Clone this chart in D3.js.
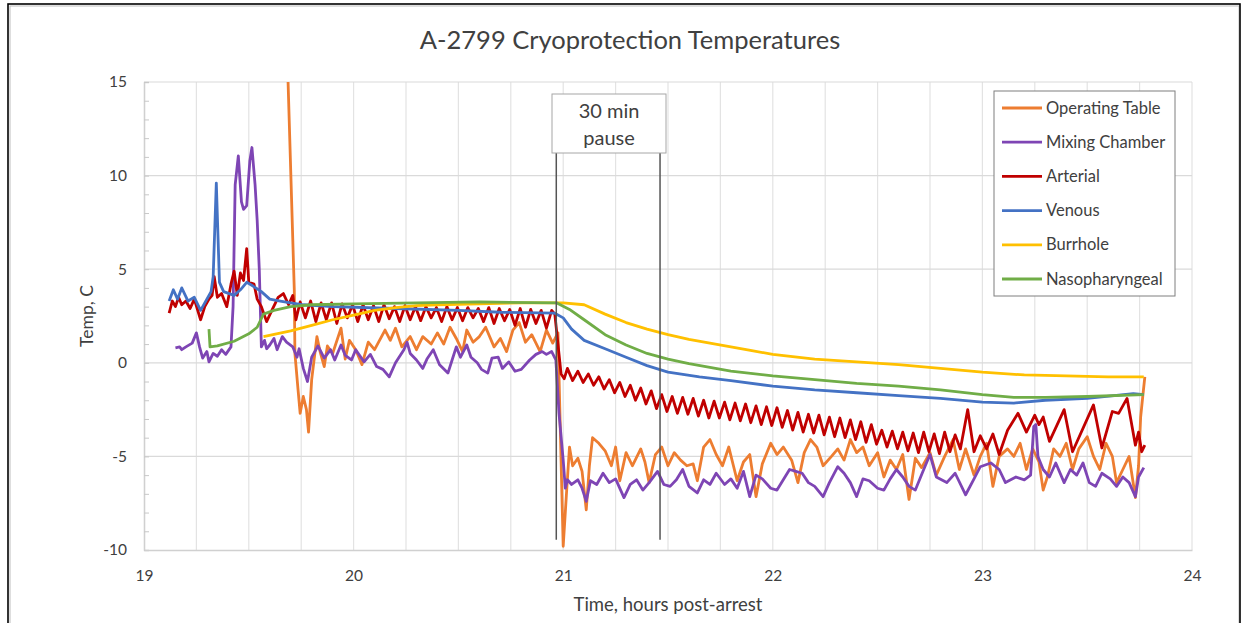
<!DOCTYPE html>
<html>
<head>
<meta charset="utf-8">
<script src="https://cdn.jsdelivr.net/npm/d3@7/dist/d3.min.js"></script>
<style>
body { margin: 0; background: #fff; }
text { font-family: Lato, "Open Sans", sans-serif; fill: #404040; }
</style>
</head>
<body>
<svg id="chart" width="1252" height="623"></svg>
<script>
var chartTitle = "A-2799 Cryoprotection Temperatures";
var xTitle = "Time, hours post-arrest";
var yTitle = "Temp, C";
var xTicks = [19, 20, 21, 22, 23, 24];
var yTicks = [-10, -5, 0, 5, 10, 15];
var pauseLabel = ["30 min", "pause"];
var pauseStart = 20.967;
var pauseEnd = 21.462;

var seriesNames = ["Operating Table", "Mixing Chamber", "Arterial", "Venous", "Burrhole", "Nasopharyngeal"];
var seriesColors = ["#ED7D31", "#7E45B4", "#C00000", "#4472C4", "#FFC000", "#70AD47"];

// [hours post-arrest, temp C]
var operatingTable = [[19.686,15.5],[19.717,3.9],[19.72,0.5],[19.735,-1.45],[19.745,-2.7],[19.76,-1.8],[19.775,-2.5],[19.785,-3.7],[19.8,-0.9],[19.825,1.4],[19.84,0.6],[19.86,-0.2],[19.875,0.9],[19.9,0.5],[19.94,1.85],[19.96,0.2],[19.98,1.2],[20.01,0.7],[20.04,-0.1],[20.07,1.1],[20.1,0.7],[20.15,1.75],[20.175,1.2],[20.2,1.85],[20.23,0.85],[20.27,1.4],[20.3,0.7],[20.33,1.4],[20.37,1.0],[20.4,1.6],[20.43,1.0],[20.46,1.9],[20.49,1.3],[20.52,0.6],[20.54,1.75],[20.57,1.1],[20.6,1.4],[20.63,1.9],[20.67,0.85],[20.7,1.3],[20.73,0.6],[20.76,1.75],[20.79,2.15],[20.82,1.1],[20.85,1.5],[20.89,0.6],[20.92,1.75],[20.95,1.05],[20.975,1.6],[20.99,-5.3],[21.0,-9.8],[21.015,-7.1],[21.03,-4.5],[21.045,-5.5],[21.07,-5.1],[21.09,-5.8],[21.11,-7.85],[21.125,-5.5],[21.14,-4.0],[21.17,-4.3],[21.2,-4.7],[21.23,-5.5],[21.25,-4.5],[21.27,-6.3],[21.3,-4.8],[21.33,-5.5],[21.37,-4.6],[21.39,-5.3],[21.41,-6.4],[21.44,-4.9],[21.47,-4.5],[21.5,-5.5],[21.53,-4.8],[21.56,-5.2],[21.59,-5.5],[21.62,-5.4],[21.64,-6.3],[21.67,-4.5],[21.7,-4.1],[21.73,-4.9],[21.76,-5.5],[21.79,-4.5],[21.83,-6.3],[21.86,-5.3],[21.89,-4.9],[21.92,-7.15],[21.95,-5.4],[21.99,-4.3],[22.02,-4.9],[22.05,-4.5],[22.09,-5.2],[22.12,-6.4],[22.15,-4.8],[22.18,-4.1],[22.21,-4.5],[22.24,-5.5],[22.28,-5.0],[22.31,-4.6],[22.34,-5.2],[22.37,-4.1],[22.4,-4.8],[22.43,-4.5],[22.46,-5.5],[22.5,-4.8],[22.53,-6.1],[22.56,-5.2],[22.59,-5.7],[22.62,-4.9],[22.65,-7.3],[22.68,-5.1],[22.71,-5.6],[22.75,-4.8],[22.78,-6.0],[22.82,-5.0],[22.86,-4.1],[22.89,-5.7],[22.92,-4.6],[22.96,-6.0],[22.99,-5.0],[23.02,-4.3],[23.05,-6.6],[23.08,-5.0],[23.12,-4.6],[23.15,-5.0],[23.18,-4.3],[23.21,-5.7],[23.24,-4.6],[23.27,-5.3],[23.29,-6.8],[23.31,-6.1],[23.34,-4.6],[23.37,-5.0],[23.4,-4.3],[23.43,-5.7],[23.46,-4.6],[23.5,-3.95],[23.53,-5.0],[23.56,-5.7],[23.59,-4.3],[23.62,-5.0],[23.64,-6.4],[23.67,-5.7],[23.7,-5.0],[23.73,-7.2],[23.745,-5.5],[23.755,-2.9],[23.765,-1.8],[23.775,-0.75]];

var mixingChamber = [[19.15,0.8],[19.17,0.85],[19.18,0.7],[19.2,0.85],[19.23,1.05],[19.25,1.6],[19.265,0.85],[19.28,0.25],[19.3,0.6],[19.31,0.05],[19.33,0.5],[19.35,0.35],[19.37,0.7],[19.39,0.45],[19.415,0.85],[19.425,3.0],[19.435,9.5],[19.45,11.05],[19.465,8.6],[19.475,8.2],[19.49,8.4],[19.505,10.8],[19.515,11.5],[19.53,9.5],[19.54,7.6],[19.55,5.0],[19.56,0.85],[19.575,1.2],[19.585,0.75],[19.6,0.95],[19.62,1.3],[19.635,0.7],[19.66,1.4],[19.68,1.1],[19.71,0.85],[19.73,0.3],[19.74,0.75],[19.76,-0.3],[19.78,-1.0],[19.8,0.3],[19.83,0.9],[19.86,0.25],[19.89,0.7],[19.91,0.15],[19.94,0.95],[19.96,0.4],[19.99,0.15],[20.01,0.7],[20.05,0.05],[20.08,0.45],[20.11,-0.2],[20.14,-0.35],[20.17,-0.75],[20.2,0.0],[20.24,0.7],[20.255,1.1],[20.27,0.5],[20.3,0.15],[20.33,-0.3],[20.35,0.2],[20.38,0.7],[20.41,-0.1],[20.45,-0.55],[20.47,0.15],[20.49,0.85],[20.51,0.3],[20.54,0.95],[20.56,0.3],[20.59,0.0],[20.61,-0.35],[20.64,-0.55],[20.66,0.25],[20.69,0.3],[20.71,-0.3],[20.74,0.05],[20.77,-0.45],[20.8,-0.35],[20.84,0.15],[20.87,0.45],[20.9,0.6],[20.92,0.45],[20.945,0.6],[20.965,0.15],[20.98,-2.7],[21.0,-5.2],[21.01,-6.7],[21.02,-6.25],[21.04,-6.5],[21.07,-6.25],[21.09,-6.7],[21.11,-7.4],[21.13,-6.3],[21.16,-6.5],[21.19,-5.9],[21.22,-6.4],[21.25,-6.2],[21.29,-7.2],[21.32,-6.5],[21.35,-6.25],[21.38,-6.8],[21.41,-6.4],[21.45,-5.8],[21.48,-6.5],[21.51,-6.6],[21.54,-6.25],[21.57,-5.7],[21.6,-6.6],[21.64,-6.95],[21.67,-6.25],[21.7,-6.5],[21.73,-5.9],[21.77,-6.5],[21.8,-6.2],[21.83,-6.7],[21.86,-5.8],[21.89,-7.15],[21.92,-6.0],[21.95,-6.2],[21.99,-6.7],[22.02,-6.8],[22.05,-6.25],[22.08,-5.7],[22.11,-5.8],[22.14,-5.9],[22.17,-6.4],[22.2,-6.6],[22.24,-7.15],[22.27,-6.4],[22.31,-5.55],[22.34,-5.9],[22.37,-6.4],[22.4,-7.15],[22.43,-6.2],[22.46,-6.3],[22.5,-6.7],[22.53,-6.8],[22.56,-6.2],[22.59,-5.7],[22.62,-6.1],[22.65,-6.6],[22.68,-6.8],[22.72,-5.7],[22.75,-4.9],[22.78,-6.1],[22.83,-6.4],[22.87,-5.9],[22.92,-7.05],[22.96,-6.2],[22.99,-5.55],[23.04,-5.35],[23.08,-5.7],[23.11,-6.4],[23.16,-6.1],[23.2,-6.25],[23.23,-6.0],[23.245,-3.4],[23.255,-3.3],[23.265,-5.0],[23.29,-5.7],[23.32,-6.1],[23.35,-5.35],[23.39,-6.4],[23.42,-5.7],[23.45,-6.0],[23.48,-5.35],[23.51,-6.4],[23.54,-6.6],[23.57,-5.9],[23.61,-6.2],[23.64,-6.6],[23.67,-6.1],[23.7,-6.4],[23.73,-7.15],[23.745,-6.1],[23.77,-5.6]];

var arterial = [[19.12,2.65],[19.135,3.3],[19.15,3.0],[19.165,3.5],[19.18,3.1],[19.2,3.3],[19.22,2.9],[19.24,3.4],[19.27,2.3],[19.29,3.0],[19.31,3.4],[19.325,3.6],[19.335,4.6],[19.35,3.5],[19.37,3.7],[19.395,3.0],[19.415,4.2],[19.43,4.9],[19.445,3.6],[19.46,4.8],[19.475,4.4],[19.49,6.1],[19.5,4.3],[19.525,4.2],[19.54,3.4],[19.56,3.0],[19.585,2.2],[19.61,2.8],[19.64,3.5],[19.665,3.7],[19.69,3.1],[19.71,3.6],[19.725,2.3],[19.745,3.25],
  [19.77,2.4],[19.795,3.3],[19.82,2.2],[19.845,3.2],[19.87,2.3],[19.895,3.2],[19.92,2.1],[19.945,3.15],[19.97,2.4],[19.995,3.1],[20.02,2.2],[20.045,3.1],[20.07,2.3],[20.095,3.05],[20.12,2.2],[20.145,3.1],[20.17,2.35],[20.195,3.0],[20.22,2.2],[20.245,3.05],[20.27,2.3],[20.295,3.0],[20.32,2.25],[20.345,3.0],[20.37,2.4],[20.395,2.95],[20.42,2.2],[20.445,3.0],[20.47,2.3],[20.495,2.95],[20.52,2.25],[20.545,2.95],[20.57,2.4],[20.595,2.9],[20.62,2.2],[20.645,2.95],[20.67,2.1],[20.695,2.9],[20.72,2.25],[20.745,2.85],[20.77,2.0],[20.795,2.9],[20.82,1.9],[20.845,2.85],[20.87,2.1],[20.895,2.8],[20.92,1.85],[20.945,2.8],[20.96,2.6],
  [20.975,1.0],[20.99,-0.6],[21.005,-0.85],[21.02,-0.3],[21.045,-0.95],[21.07,-0.45],[21.095,-1.05],[21.12,-0.6],[21.145,-1.2],[21.17,-0.75],[21.195,-1.4],[21.22,-0.9],[21.245,-1.6],[21.27,-1.05],[21.295,-1.8],[21.32,-1.2],[21.345,-2.0],[21.37,-1.35],[21.395,-2.2],[21.42,-1.5],[21.445,-2.45],[21.47,-1.7],[21.495,-2.6],[21.52,-1.8],[21.545,-2.7],[21.57,-1.85],[21.595,-2.75],[21.62,-1.9],[21.645,-2.85],[21.67,-2.0],[21.695,-2.95],[21.72,-2.05],[21.745,-2.95],[21.77,-2.1],[21.795,-3.05],[21.82,-2.15],[21.845,-3.1],[21.87,-2.2],[21.895,-3.2],[21.92,-2.3],[21.945,-3.3],[21.97,-2.35],[21.995,-3.35],[22.02,-2.4],[22.045,-3.45],[22.07,-2.55],[22.095,-3.6],[22.12,-2.65],[22.145,-3.7],[22.17,-2.75],[22.195,-3.75],[22.22,-2.8],[22.245,-3.85],[22.27,-2.9],[22.295,-3.95],[22.32,-2.95],[22.345,-4.0],[22.37,-3.05],[22.395,-4.1],[22.42,-3.15],[22.445,-4.25],[22.47,-3.3],[22.495,-4.35],[22.52,-3.6],[22.545,-4.5],[22.57,-3.65],[22.595,-4.6],[22.62,-3.7],[22.645,-4.7],[22.67,-3.75],[22.695,-4.8],[22.72,-3.7],[22.745,-4.75],[22.77,-3.8],[22.795,-4.85],[22.82,-3.7],[22.845,-4.75],[22.87,-3.85],[22.895,-4.6],
  [22.93,-2.5],[22.96,-4.75],[22.99,-3.9],[23.02,-4.6],[23.05,-3.8],[23.08,-4.9],[23.12,-3.6],[23.17,-2.7],[23.21,-3.7],[23.25,-2.8],[23.27,-3.3],[23.29,-2.9],[23.32,-4.2],[23.39,-2.5],[23.43,-4.75],[23.53,-2.25],[23.57,-4.55],[23.62,-2.6],[23.65,-2.7],[23.69,-1.9],[23.73,-4.4],[23.745,-3.7],[23.76,-4.75],[23.775,-4.4]];

var venous = [[19.12,3.3],[19.14,3.9],[19.16,3.4],[19.18,4.0],[19.21,3.3],[19.24,3.5],[19.27,2.8],[19.3,3.4],[19.32,3.8],[19.33,4.6],[19.345,9.6],[19.36,4.3],[19.38,3.8],[19.43,3.6],[19.46,3.9],[19.49,4.3],[19.52,4.1],[19.56,3.8],[19.6,3.4],[19.65,3.3],[19.7,3.2],[19.76,3.1],[19.9,3.0],[20.2,2.9],[20.5,2.8],[20.7,2.7],[20.96,2.65],[21.0,2.4],[21.04,1.8],[21.1,1.2],[21.2,0.75],[21.3,0.3],[21.4,-0.15],[21.5,-0.5],[21.65,-0.75],[21.8,-0.95],[22.0,-1.25],[22.2,-1.45],[22.4,-1.6],[22.6,-1.75],[22.8,-1.9],[23.0,-2.1],[23.15,-2.15],[23.3,-2.0],[23.5,-1.9],[23.72,-1.65],[23.77,-1.7]];

var burrhole = [[19.57,1.4],[19.7,1.7],[19.8,2.0],[19.9,2.3],[20.0,2.55],[20.1,2.8],[20.2,2.95],[20.3,3.05],[20.4,3.1],[20.6,3.15],[20.8,3.2],[21.0,3.2],[21.1,3.1],[21.2,2.6],[21.3,2.15],[21.4,1.8],[21.5,1.5],[21.6,1.25],[21.7,1.05],[21.8,0.85],[21.9,0.65],[22.0,0.45],[22.2,0.2],[22.4,0.05],[22.6,-0.1],[22.8,-0.3],[23.0,-0.5],[23.2,-0.65],[23.4,-0.7],[23.6,-0.75],[23.77,-0.75]];

var nasopharyngeal = [[19.31,1.8],[19.315,0.85],[19.35,0.9],[19.43,1.15],[19.5,1.55],[19.54,1.9],[19.57,2.6],[19.62,2.8],[19.7,3.0],[19.8,3.1],[20.0,3.15],[20.3,3.2],[20.6,3.25],[20.97,3.2],[21.03,2.85],[21.1,2.3],[21.2,1.5],[21.3,0.95],[21.4,0.5],[21.5,0.2],[21.6,-0.05],[21.8,-0.45],[22.0,-0.7],[22.2,-0.9],[22.4,-1.1],[22.6,-1.25],[22.8,-1.45],[23.0,-1.7],[23.15,-1.85],[23.3,-1.85],[23.5,-1.8],[23.77,-1.7]];

var allSeries = [operatingTable, mixingChamber, arterial, venous, burrhole, nasopharyngeal];

var svg = d3.select("#chart");

// plot area (plotTop, not "top": that one is taken by window.top)
var plotLeft = 144, plotRight = 1192, plotTop = 82, plotBottom = 550;

var x = d3.scaleLinear().domain([19, 24]).range([plotLeft, plotRight]);
var y = d3.scaleLinear().domain([-10, 15]).range([plotBottom, plotTop]);

svg.append("rect").attr("width", 1252).attr("height", 623).attr("fill", "#fff");

// outer frame of the pasted chart
svg.append("rect")
	.attr("x", 10).attr("y", 6)
	.attr("width", 1229).attr("height", 640)
	.attr("fill", "none").attr("stroke", "#bdbdbd").attr("stroke-width", 1);
svg.append("rect")
	.attr("x", 8).attr("y", 4)
	.attr("width", 1232).attr("height", 640)
	.attr("fill", "none").attr("stroke", "#000").attr("stroke-width", 1.6);

// gridlines
svg.append("g").selectAll("line")
	.data(d3.range(1, 21).map(function(i) { return 19 + i * 0.25; }))
	.enter().append("line")
	.attr("x1", function(d) { return x(d); }).attr("x2", function(d) { return x(d); })
	.attr("y1", plotTop).attr("y2", plotBottom)
	.attr("stroke", "#e3e3e3").attr("stroke-width", 1.2);

svg.append("g").selectAll("line")
	.data(yTicks.slice(1))
	.enter().append("line")
	.attr("x1", plotLeft).attr("x2", plotRight)
	.attr("y1", function(d) { return y(d); }).attr("y2", function(d) { return y(d); })
	.attr("stroke", "#dadada").attr("stroke-width", 1.2);

// axes, plain hyphen for negatives like the original
var plainNum = function(d) { return String(d); };
var yAxis = svg.append("g")
	.attr("transform", "translate(" + plotLeft + ",0)")
	.call(d3.axisLeft(y).tickValues(yTicks).tickSize(0).tickPadding(17).tickFormat(plainNum));
var yMinor = svg.append("g")
	.attr("transform", "translate(" + plotLeft + ",0)")
	.call(d3.axisRight(y).ticks(25).tickSize(5).tickFormat(""));
var xAxis = svg.append("g")
	.attr("transform", "translate(0," + plotBottom + ")")
	.call(d3.axisBottom(x).tickValues(xTicks).tickSize(0).tickPadding(20).tickFormat(plainNum));

[yAxis, yMinor, xAxis].forEach(function(a) {
	a.select(".domain").attr("stroke", "#d0d0d0").attr("stroke-width", 1.3);
	a.selectAll(".tick line").attr("stroke", "#c8c8c8");
	a.selectAll("text").attr("font-size", 15.5).attr("fill", "#404040")
		.attr("font-family", "Lato, sans-serif");
});

// the lines
svg.append("clipPath").attr("id", "plotclip")
	.append("rect").attr("x", plotLeft).attr("y", plotTop)
	.attr("width", plotRight - plotLeft).attr("height", plotBottom - plotTop);

var line = d3.line()
	.x(function(d) { return x(d[0]); })
	.y(function(d) { return y(d[1]); });

var g = svg.append("g").attr("clip-path", "url(#plotclip)");
allSeries.forEach(function(s, i) {
	g.append("path")
		.datum(s)
		.attr("d", line)
		.attr("fill", "none")
		.attr("stroke", seriesColors[i])
		.attr("stroke-width", 2.8)
		.attr("stroke-linejoin", "round");
});

// 30 min pause markers
[pauseStart, pauseEnd].forEach(function(t) {
	svg.append("line")
		.attr("x1", x(t)).attr("x2", x(t))
		.attr("y1", 153).attr("y2", y(-9.45))
		.attr("stroke", "#555").attr("stroke-width", 1.5);
});
svg.append("rect")
	.attr("x", 552).attr("y", 94).attr("width", 114).attr("height", 59)
	.attr("fill", "#fff").attr("stroke", "#a6a6a6").attr("stroke-width", 1);
svg.selectAll(".pause").data(pauseLabel).enter().append("text")
	.attr("class", "pause")
	.attr("x", 609).attr("y", function(d, i) { return 118 + i * 27; })
	.attr("text-anchor", "middle").attr("font-size", 20)
	.text(function(d) { return d; });

// legend
svg.append("rect")
	.attr("x", 994).attr("y", 91).attr("width", 181).attr("height", 205)
	.attr("fill", "#fff").attr("stroke", "#7f7f7f").attr("stroke-width", 1);
var legend = svg.selectAll(".legend").data(seriesNames).enter().append("g")
	.attr("class", "legend")
	.attr("transform", function(d, i) { return "translate(1002," + (108 + i * 34.2) + ")"; });
legend.append("line")
	.attr("x1", 0).attr("x2", 40)
	.attr("stroke", function(d, i) { return seriesColors[i]; })
	.attr("stroke-width", 2.8);
legend.append("text")
	.attr("x", 44).attr("y", 5.5).attr("font-size", 16.5)
	.text(function(d) { return d; });

// titles
svg.append("text")
	.attr("x", 630).attr("y", 49).attr("text-anchor", "middle")
	.attr("font-size", 25.5).attr("fill", "#262626")
	.text(chartTitle);
svg.append("text")
	.attr("x", 668).attr("y", 611).attr("text-anchor", "middle")
	.attr("font-size", 18.5)
	.text(xTitle);
svg.append("text")
	.attr("transform", "translate(93,316) rotate(-90)")
	.attr("text-anchor", "middle").attr("font-size", 17.5)
	.text(yTitle);
</script>
</body>
</html>
